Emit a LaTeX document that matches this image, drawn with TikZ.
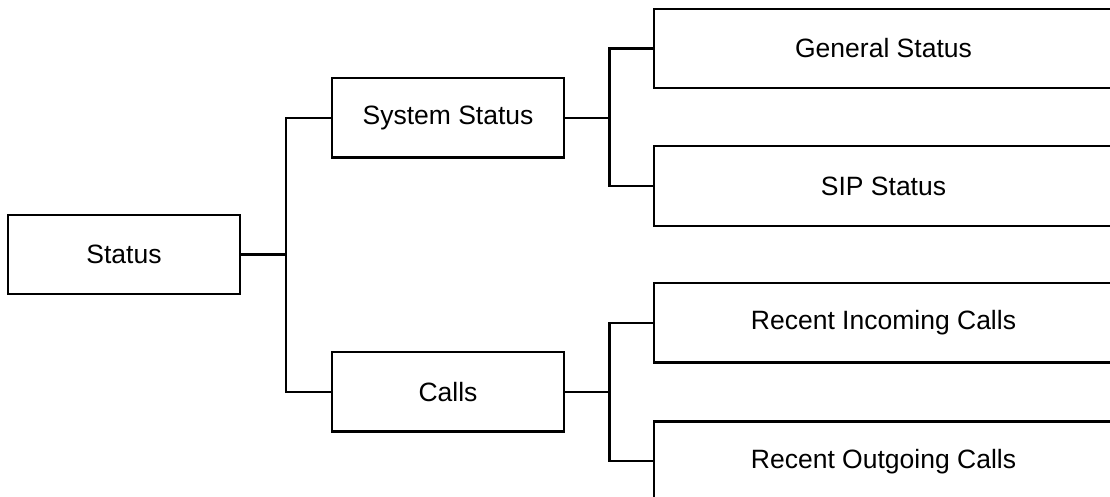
\documentclass[tikz,border=0pt]{standalone}
\usepackage{fontspec}
\setmainfont{Liberation Sans}
\begin{document}
\begin{tikzpicture}[x=1pt,y=-1pt,
  box/.style={draw=black, line width=2.2pt, rectangle, inner sep=0pt, anchor=center,
    font=\fontsize{26.5}{31}\selectfont},
  midbox/.style={box, minimum width=232pt, minimum height=79.5pt},
  leafbox/.style={box, minimum width=459pt, minimum height=79.5pt},
  conn/.style={draw=black, line width=2.2pt}]
\useasboundingbox (0,0) rectangle (1110,497);
\clip (0,0) rectangle (1110,497);
\node[midbox] (status) at (124,254.5) {Status};
\node[midbox] (sys) at (448,117.7) {System Status};
\node[midbox] (calls) at (448,391.7) {Calls};
\node[leafbox] (gen) at (883.5,48.5) {General Status};
\node[leafbox] (sip) at (883.5,186) {SIP Status};
\node[leafbox] (inc) at (883.5,322.7) {Recent Incoming Calls};
\node[leafbox] (out) at (883.5,461.3) {Recent Outgoing Calls};
\coordinate (b1) at (286,254.5);
\coordinate (b2) at (609.5,117.7);
\coordinate (b3) at (609.5,391.7);
\draw[conn] (status.east) -- (b1);
\draw[conn] (sys.west) -| (b1) |- (calls.west);
\draw[conn] (sys.east) -- (b2);
\draw[conn] (gen.west) -| (b2) |- (sip.west);
\draw[conn] (calls.east) -- (b3);
\draw[conn] (inc.west) -| (b3) |- (out.west);
\end{tikzpicture}
\end{document}
